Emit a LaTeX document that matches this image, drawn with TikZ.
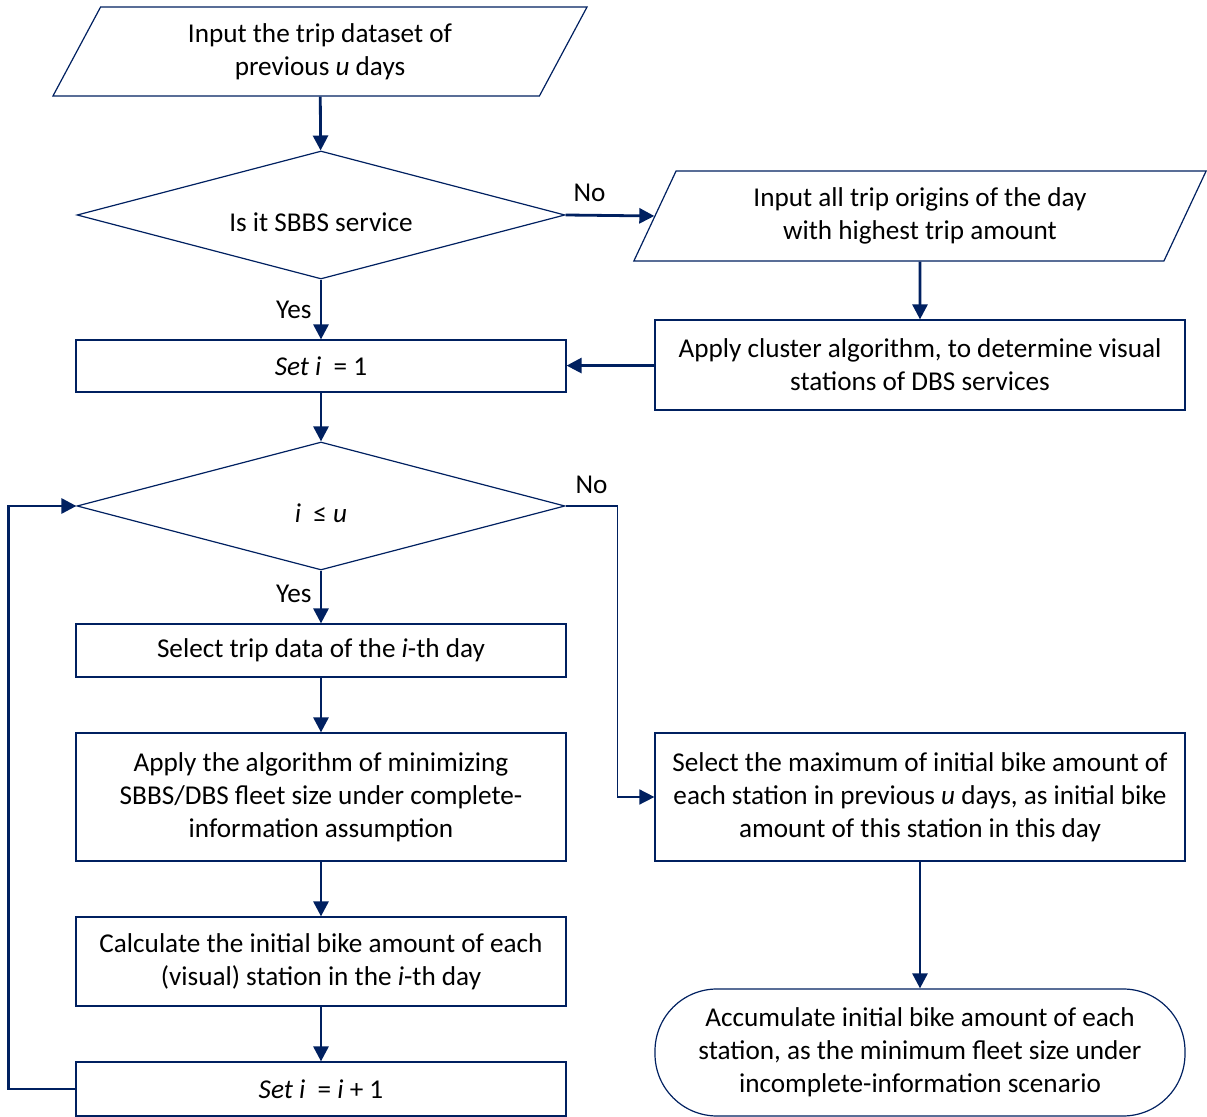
\documentclass[tikz,border=0pt]{standalone}
\usepackage{fontspec}
\setmainfont{Carlito}
\usepackage{tikz}
\usetikzlibrary{positioning, shapes.geometric, arrows.meta}

\definecolor{navy}{RGB}{0,32,96}

\begin{document}
\begin{tikzpicture}[x=0.5pt, y=-0.5pt,
    every node/.style={font=\fontsize{13.6}{16.5}\selectfont, align=center, inner sep=0pt},
    box/.style={draw=navy, line width=0.6pt, rectangle, minimum width=245pt},
    io/.style={draw=navy, line width=0.6pt, trapezium, trapezium left angle=63, trapezium right angle=117, trapezium stretches=true},
    decision/.style={draw=navy, line width=0.6pt, diamond, aspect=3.85, minimum width=244pt, minimum height=64pt},
    arrow/.style={draw=navy, line width=1.4pt, -{Triangle[length=7.5pt, width=7.5pt]}}]
    \useasboundingbox (0,0) rectangle (1207,1117);

    \node [io, minimum width=267.5pt, minimum height=44.5pt] (input) at (320, 51.5) {Input the trip dataset of\\previous \textit{u} days};
    \node [decision] (sbbs) at (321, 215) {\raisebox{-3.5pt}[\height][\depth]{Is it SBBS service}};
    \node [io, minimum width=286.5pt, minimum height=45pt] (origins) at (920, 216) {Input all trip origins of the day\\with highest trip amount};
    \node [box, minimum width=265pt, minimum height=45pt] (cluster) at (920, 365) {Apply cluster algorithm, to determine visual\\stations of DBS services};
    \node [box, minimum height=26pt] (init) at (321, 366) {\textit{Set i}~ = 1};
    \node [decision] (cond) at (321, 506) {\raisebox{-3.5pt}[\height][\depth]{\textit{i}~ ≤ \textit{u}}};
    \node [box, minimum height=26.5pt] (select) at (321, 650.5) {Select trip data of the \textit{i}-th day};
    \node [box, minimum height=64pt] (minimize) at (321, 797) {Apply the algorithm of minimizing\\SBBS/DBS fleet size under complete-\\information assumption};
    \node [box, minimum height=44.5pt] (calc) at (321, 961.5) {Calculate the initial bike amount of each\\(visual) station in the \textit{i}-th day};
    \node [box, minimum height=27pt] (incr) at (321, 1089) {\textit{Set i}~ = \textit{i} + 1};
    \node [box, minimum width=265pt, minimum height=64pt] (maximum) at (920, 797) {Select the maximum of initial bike amount of\\each station in previous \textit{u} days, as initial bike\\amount of this station in this day};
    \node [box, minimum width=265pt, minimum height=63.5pt, rounded corners=31pt] (result) at (920, 1052.5) {Accumulate initial bike amount of each\\station, as the minimum fleet size under\\incomplete-information scenario};

    \draw [arrow] (input) -- (sbbs);
    \draw [arrow] (sbbs.east) -- (origins.west) node [pos=0.27, above=6pt] {No};
    \draw [arrow] (sbbs) -- (init) node [midway, left=4pt] {Yes};
    \draw [arrow] (origins) -- (cluster);
    \draw [arrow] (cluster) -- (init);
    \draw [arrow] (init) -- (cond);
    \draw [arrow] (cond) -- (select) node [midway, left=4pt, yshift=1.5pt] {Yes};
    \draw [arrow] (select) -- (minimize);
    \draw [arrow] (minimize) -- (calc);
    \draw [arrow] (calc) -- (incr);
    \draw [arrow] (incr.west) -- ++(-67, 0) |- (cond.west);
    \draw [arrow, line width=0.8pt] (cond.east) -- ++(52, 0) node [midway, above=6pt] {No} |- (maximum.west);
    \draw [arrow] (maximum) -- (result);
\end{tikzpicture}
\end{document}
